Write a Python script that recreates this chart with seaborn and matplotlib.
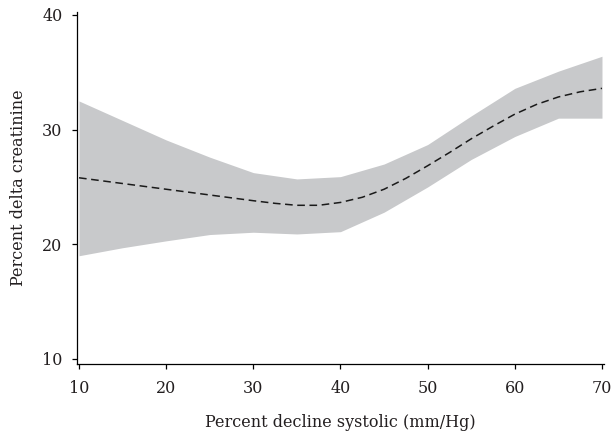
import numpy as np
import pandas as pd
import seaborn as sns
import matplotlib.pyplot as plt

# values
decline_fit = [10, 12.5, 15, 17.5, 20, 22.5, 25, 27.5, 30, 32.5, 35, 37.5, 40,
               42.5, 45, 47.5, 50, 52.5, 55, 57.5, 60, 62.5, 65, 67.5, 70]
delta_fit = [25.8, 25.55, 25.3, 25.05, 24.8, 24.55, 24.3, 24.05, 23.8, 23.57, 23.4, 23.4, 23.65,
             24.1, 24.8, 25.75, 26.85, 28.0, 29.2, 30.3, 31.35, 32.2, 32.85, 33.3, 33.6]

decline_ci = [10, 15, 20, 25, 30, 35, 40, 45, 50, 55, 60, 65, 70]
ci_upper = [32.5, 30.8, 29.1, 27.6, 26.25, 25.7, 25.9, 27.0, 28.7, 31.2, 33.6, 35.1, 36.4]
ci_lower = [19.0, 19.7, 20.3, 20.85, 21.05, 20.9, 21.1, 22.8, 25.0, 27.4, 29.4, 31.0, 31.0]

fit = pd.DataFrame({"decline": decline_fit, "delta": delta_fit})
ci = pd.DataFrame({"decline": decline_ci, "upper": ci_upper, "lower": ci_lower})

sns.set_style("ticks")
plt.rcParams['font.family'] = ['DejaVu Serif']

fig = plt.figure(figsize=(6.14, 4.33), dpi=100)
ax = fig.add_axes([0.1254, 0.1594, 0.8583, 0.8129])

ax.fill_between(ci["decline"], ci["lower"], ci["upper"], color="#c8c9cb", linewidth=0)
sns.lineplot(data=fit, x="decline", y="delta", ax=ax, color="#1a1a1a",
             linestyle=(0, (5, 3)), linewidth=1.1)

ax.set_xlim(9.77, 70.23)
ax.set_ylim(9.56, 40.26)
ax.set_xticks([10, 20, 30, 40, 50, 60, 70])
ax.set_yticks([10, 20, 30, 40])
ax.tick_params(labelsize=11.5, length=3.5, width=0.9, color="black", labelcolor="#231f20")
ax.tick_params(axis="x", pad=8)
ax.tick_params(axis="y", pad=7)
for s in ["left", "bottom"]:
    ax.spines[s].set_linewidth(0.9)
    ax.spines[s].set_color("black")
sns.despine(ax=ax)

ax.set_xlabel("Percent decline systolic (mm/Hg)", fontsize=11.5, color="#231f20", labelpad=12)
ax.set_ylabel("Percent delta creatinine", fontsize=11.5, color="#231f20", labelpad=11)

fig.savefig("out.png", dpi=100)
